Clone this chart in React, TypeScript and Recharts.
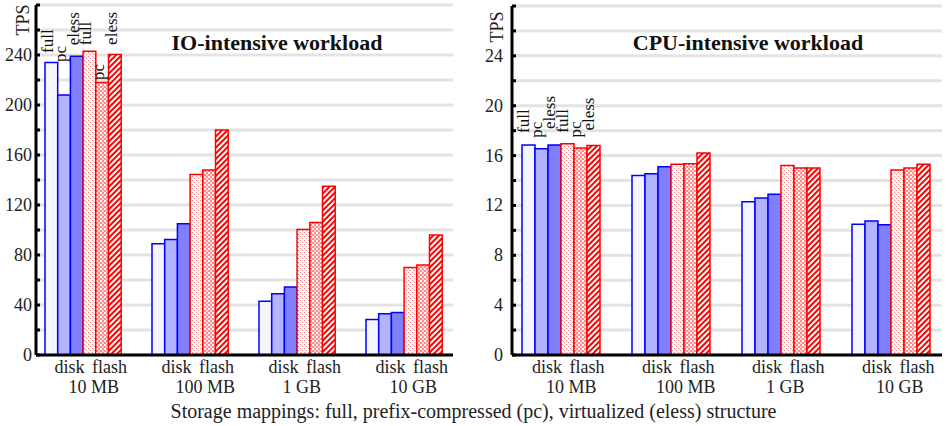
import { BarChart, Bar, XAxis, YAxis, CartesianGrid, LabelList } from 'recharts';

const sizes = ['10 MB', '100 MB', '1 GB', '10 GB'];

// IO-intensive workload, TPS
const ioDiskFull = [234, 89, 43, 28.5];
const ioDiskPc = [208, 92.5, 49, 33];
const ioDiskEless = [239, 105, 54.5, 34];
const ioFlashFull = [243, 144.5, 100.5, 70];
const ioFlashPc = [218, 148, 106, 72];
const ioFlashEless = [240.5, 180, 135, 96];

// CPU-intensive workload, TPS
const cpuDiskFull = [16.85, 14.4, 12.3, 10.5];
const cpuDiskPc = [16.55, 14.55, 12.6, 10.75];
const cpuDiskEless = [16.85, 15.1, 12.9, 10.45];
const cpuFlashFull = [16.95, 15.3, 15.2, 14.85];
const cpuFlashPc = [16.6, 15.35, 15.0, 15.0];
const cpuFlashEless = [16.8, 16.2, 15.0, 15.3];

const ioTicks = [0, 20, 40, 60, 80, 100, 120, 140, 160, 180, 200, 220, 240, 260, 280];
const cpuTicks = [0, 2, 4, 6, 8, 10, 12, 14, 16, 18, 20, 22, 24, 26, 28];

const FONT = '"Liberation Serif", "Times New Roman", serif';

const build = (df: number[], dp: number[], de: number[], ff: number[], fp: number[], fe: number[]) =>
  sizes.map((size, i) => ({
    size,
    diskFull: df[i],
    diskPc: dp[i],
    diskEless: de[i],
    flashFull: ff[i],
    flashPc: fp[i],
    flashEless: fe[i],
  }));

const ioData = build(ioDiskFull, ioDiskPc, ioDiskEless, ioFlashFull, ioFlashPc, ioFlashEless);
const cpuData = build(cpuDiskFull, cpuDiskPc, cpuDiskEless, cpuFlashFull, cpuFlashPc, cpuFlashEless);

const series = [
  { key: 'diskFull', tag: 'full', fill: '#f5f5ff', stroke: '#0000ff' },
  { key: 'diskPc', tag: 'pc', fill: '#b3b3ff', stroke: '#0000ff' },
  { key: 'diskEless', tag: 'eless', fill: '#8080ff', stroke: '#0000ff' },
  { key: 'flashFull', tag: 'full', fill: 'url(#hatchFull)', stroke: '#ff0000' },
  { key: 'flashPc', tag: 'pc', fill: 'url(#hatchPc)', stroke: '#ff0000' },
  { key: 'flashEless', tag: 'eless', fill: 'url(#hatchEless)', stroke: '#ff0000' },
];

// rotated series names above the first group
const makeTag = (text: string, lift: number, dx: number) => (props: any) => {
  if (props.index !== 0) return null;
  const x = props.x + props.width / 2 + dx;
  const y = props.y - lift;
  return (
    <text x={x} y={y} transform={`rotate(-90 ${x} ${y})`} textAnchor="start"
      fontFamily={FONT} fontSize={17} fill="#111">
      {text}
    </text>
  );
};

const makeYTick = (labelEvery: number, max: number, margin: number) => (props: any) => {
  const { x, y, payload } = props;
  const ax = x + margin;
  const v = payload.value;
  return (
    <g>
      <line x1={ax} x2={ax + 4} y1={y} y2={y} stroke="#000" strokeWidth={3} />
      {v % labelEvery === 0 && v < max && (
        <text x={x} y={y + 6} textAnchor="end" fontFamily={FONT} fontSize={18} fill="#222">{v}</text>
      )}
    </g>
  );
};

const RightTick = (props: any) => {
  const { x, y } = props;
  return <line x1={x - 4} x2={x} y1={y} y2={y} stroke="#000" strokeWidth={3} />;
};

const SizeTick = (props: any) => {
  const { x, y, payload } = props;
  return (
    <g fontFamily={FONT} fontSize={18} fill="#222">
      <text x={x - 29} y={y + 18}>disk</text>
      <text x={x + 8.5} y={y + 18}>flash</text>
      <text x={x - 15} y={y + 38}>{payload.value}</text>
    </g>
  );
};

interface PanelProps {
  data: any[];
  width: number;
  left: number;
  axisWidth: number;
  marginRight: number;
  marginTop: number;
  max: number;
  ticks: number[];
  labelEvery: number;
  tickMargin: number;
  pad: { left: number; right: number };
  barSize: number;
  title: string;
  titleX: number;
  tpsX: number;
  tpsY: number;
  lifts: number[];
  tagDx: number;
}

function Panel(p: PanelProps) {
  return (
    <div style={{ position: 'absolute', left: p.left, top: 0 }}>
      <BarChart width={p.width} height={400} data={p.data} barGap={0} barSize={p.barSize}
        margin={{ top: p.marginTop, right: p.marginRight, left: 0, bottom: 0 }}>
        <CartesianGrid vertical={false} stroke="#e3e3e3" strokeWidth={3} />
        <XAxis dataKey="size" height={45} padding={p.pad} tickSize={0} tickMargin={0}
          tick={<SizeTick />} axisLine={{ stroke: '#000', strokeWidth: 3 }} interval={0} />
        <XAxis xAxisId="top" dataKey="size" orientation="top" height={0} tick={false}
          tickLine={false} axisLine={{ stroke: '#000', strokeWidth: 3 }} />
        <YAxis domain={[0, p.max]} ticks={p.ticks} width={p.axisWidth} tickSize={0}
          tickMargin={p.tickMargin} interval={0} tick={makeYTick(p.labelEvery, p.max, p.tickMargin)}
          axisLine={{ stroke: '#000', strokeWidth: 3 }} />
        <YAxis yAxisId="r" orientation="right" domain={[0, p.max]} ticks={p.ticks} width={0}
          tickSize={0} tickMargin={0} interval={0} tick={<RightTick />}
          axisLine={{ stroke: '#000', strokeWidth: 3 }} />
        {series.map((s, i) => (
          <Bar key={s.key} dataKey={s.key} fill={s.fill} stroke={s.stroke} strokeWidth={1.5}
            isAnimationActive={false}>
            <LabelList dataKey={s.key} content={makeTag(s.tag, p.lifts[i], p.tagDx)} />
          </Bar>
        ))}
        <text x={p.titleX} y={50} textAnchor="middle" fontFamily={FONT} fontWeight="bold"
          fontSize={22} fill="#111">{p.title}</text>
        <text x={p.tpsX} y={p.tpsY} transform={`rotate(-90 ${p.tpsX} ${p.tpsY})`} textAnchor="middle"
          fontFamily={FONT} fontSize={18} fill="#222">TPS</text>
      </BarChart>
    </div>
  );
}

export default function App() {
  return (
    <div style={{ position: 'absolute', left: 0, top: 0, width: 947, height: 426, background: '#fff' }}>
      <svg width={0} height={0} style={{ position: 'absolute' }}>
        <defs>
          <pattern id="hatchFull" width={4} height={4} patternUnits="userSpaceOnUse">
            <rect width={4} height={4} fill="#fff" />
            <rect x={0} y={0} width={1} height={1} fill="#ff8080" />
            <rect x={2} y={2} width={1} height={1} fill="#ff8080" />
            <rect x={1} y={1} width={1} height={1} fill="#ffc0c0" />
          </pattern>
          <pattern id="hatchPc" width={4} height={4} patternUnits="userSpaceOnUse">
            <rect width={4} height={4} fill="#ff8c8c" />
            <rect x={0} y={0} width={2} height={2} fill="#fff" />
            <rect x={2} y={2} width={2} height={2} fill="#ffd0d0" />
          </pattern>
          <pattern id="hatchEless" width={4} height={4} patternUnits="userSpaceOnUse"
            patternTransform="rotate(45)">
            <rect width={4} height={4} fill="#fff" />
            <rect x={0} y={0} width={2} height={4} fill="#ff0000" />
          </pattern>
        </defs>
      </svg>
      <Panel data={ioData} width={470} left={0} axisWidth={36} marginRight={17} marginTop={5}
        max={280} ticks={ioTicks} labelEvery={40} tickMargin={4} pad={{ left: -6, right: -5 }}
        barSize={12.7} title="IO-intensive workload" titleX={277} tpsX={29} tpsY={20}
        lifts={[9.5, 33, 11, 6, 2.5, 9.5]} tagDx={2} />
      <Panel data={cpuData} width={477} left={470} axisWidth={42} marginRight={5} marginTop={6}
        max={28} ticks={cpuTicks} labelEvery={4} tickMargin={9} pad={{ left: -6, right: -4 }}
        barSize={13} title="CPU-intensive workload" titleX={278} tpsX={33} tpsY={27}
        lifts={[12, 11, 16, 11, 10.5, 15]} tagDx={1} />
      <div style={{ position: 'absolute', left: 0, width: 947, top: 399, textAlign: 'center',
        fontFamily: FONT, fontSize: 20, color: '#222', lineHeight: '24px' }}>
        Storage mappings: full, prefix-compressed (pc), virtualized (eless) structure
      </div>
    </div>
  );
}
